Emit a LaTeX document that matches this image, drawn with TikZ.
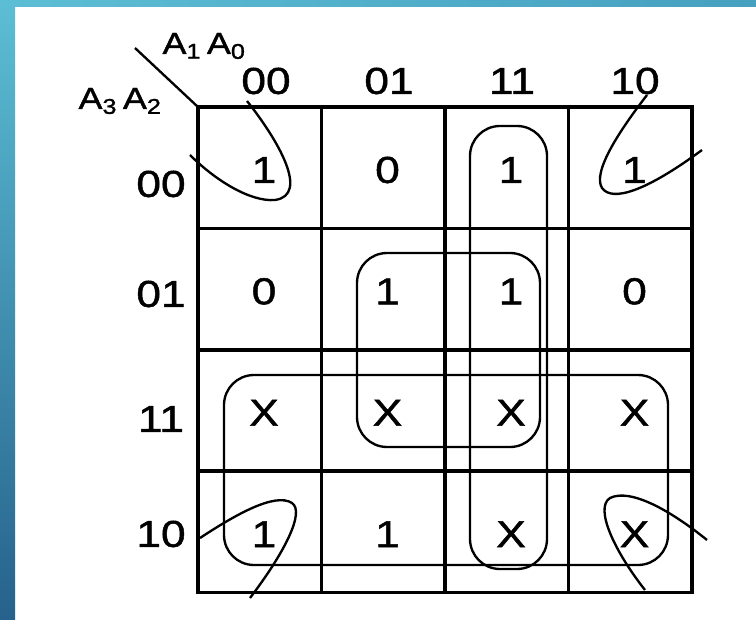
\documentclass[tikz,border=0pt]{standalone}
\usepackage{fontspec}
\setmainfont{Liberation Sans}
\newfontfamily\kfont{Liberation Sans}[FakeStretch=1.18, FakeBold=1.3]
\definecolor{bandlight}{RGB}{92,190,212}
\definecolor{banddark}{RGB}{38,98,140}
\definecolor{bandmid}{RGB}{70,160,192}

\tikzset{
  kgrid/.style={line width=3pt},
  kloop/.style={line width=2pt, rounded corners=0.9cm},
  khook/.style={line width=2pt},
  kval/.style={font=\kfont\fontsize{32}{35}\selectfont, inner sep=0pt},
  kvar/.style={font=\kfont\fontsize{26}{29}\selectfont, inner sep=0pt}
}

\begin{document}
\begin{tikzpicture}[x=0.03cm, y=-0.03cm]
    \useasboundingbox (0,0) rectangle (756,620);
    \fill[white] (0,0) rectangle (756,620);
    \shade[top color=bandlight, bottom color=banddark] (0,0) rectangle (15,620);
    \shade[left color=bandlight, right color=bandmid] (0,0) rectangle (756,7);

    % map grid
    \coordinate (corner) at (198,107);
    \coordinate (tick) at (135,48);
    \foreach \i in {1,...,3} {
        \draw[kgrid] ({198+123.5*\i},107) -- ({198+123.5*\i},592.6);
        \draw[kgrid] (198,{107+121.4*\i}) -- (692,{107+121.4*\i});
    }
    \draw[kgrid] (corner) rectangle (692,592.6);
    \draw[line width=2pt] (tick) -- (corner);

    % variables and headers
    \node[kvar] (colvar) at (204,46) {A\textsubscript{1}\hspace{5pt}A\textsubscript{0}};
    \node[kvar] (rowvar) at (120,101) {A\textsubscript{3}\hspace{5pt}A\textsubscript{2}};
    \foreach \t [count=\c from 0] in {00,01,11,10}
        \node[kval] (col\c) at ({266+123*\c},81) {\t};
    \foreach \t/\y [count=\r from 0] in {00/184,01/294,11/419,10/534}
        \node[kval] (row\r) at (161,\y) {\t};

    % cell values
    \foreach \v [count=\k from 0] in {1,0,1,1, 0,1,1,0, X,X,X,X, 1,1,X,X} {
        \pgfmathtruncatemacro{\r}{int(\k/4)}
        \pgfmathtruncatemacro{\c}{mod(\k,4)}
        \node[kval] (v-\r-\c) at ({264+123.5*\c},{170+121.4*\r}) {\v};
    }

    % groups
    \draw[kloop] (470,126) rectangle (547,569);
    \draw[kloop] (357,253) rectangle (540,447);
    \draw[kloop] (224,375) rectangle (668,565);

    % corner groups
    \draw[khook] (247,101) .. controls (278,140) and (310,195) .. (275,200)
                           .. controls (250,202) and (215,180) .. (190,155);
    \draw[khook] (647,95) .. controls (620,130) and (592,172) .. (602,188)
                          .. controls (612,202) and (645,192) .. (702,150);
    \draw[khook] (200,538) .. controls (235,515) and (275,492) .. (292,503)
                           .. controls (305,512) and (285,552) .. (250,598);
    \draw[khook] (707,540) .. controls (670,510) and (630,488) .. (610,498)
                           .. controls (594,508) and (615,552) .. (645,590);
\end{tikzpicture}
\end{document}
